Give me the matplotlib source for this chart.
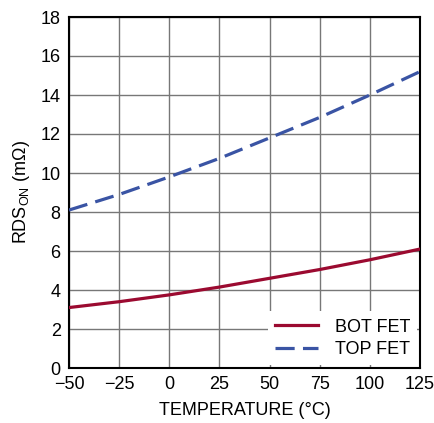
import matplotlib
matplotlib.use("Agg")
import matplotlib.pyplot as plt

plt.rcParams['font.family'] = ['Liberation Sans', 'DejaVu Sans']

temperature = [-50, -25, 0, 25, 50, 75, 100, 125]
bot_fet = [3.1, 3.4, 3.75, 4.15, 4.6, 5.05, 5.55, 6.1]
top_fet = [8.1, 8.9, 9.8, 10.75, 11.8, 12.85, 14.0, 15.2]
x_ticks = [-50, -25, 0, 25, 50, 75, 100, 125]
x_labels = ['\u221250', '\u221225', '0', '25', '50', '75', '100', '125']
y_ticks = [0, 2, 4, 6, 8, 10, 12, 14, 16, 18]

fig = plt.figure(figsize=(4.35, 4.23), dpi=100)
ax = fig.add_axes([69/435, 1 - 368/423, (420-69)/435, (368-17)/423])

ax.plot(temperature, bot_fet, color='#9b0a30', lw=2.3, label='BOT FET', zorder=3)
ax.plot(temperature, top_fet, color='#3a54a4', lw=2.3, dashes=(6, 2.6), label='TOP FET', zorder=3)

ax.set_xlim(-50, 125)
ax.set_ylim(0, 18)
ax.set_xticks(x_ticks)
ax.set_xticklabels(x_labels)
ax.set_yticks(y_ticks)
ax.grid(True, color='#777777', lw=1.0, zorder=0)
ax.tick_params(length=0, labelsize=13, pad=6)
for s in ax.spines.values():
    s.set_linewidth(1.5)
    s.set_color('black')

ax.set_xlabel('TEMPERATURE (\u00b0C)', fontsize=13, labelpad=6)
ax.set_ylabel('RDS$_{\\mathregular{ON}}$ (m\u03a9)', fontsize=13, labelpad=6)

leg = ax.legend(loc='lower right', fontsize=13, frameon=True, fancybox=False,
                edgecolor='white', framealpha=1.0, handlelength=2.4,
                borderaxespad=0.15, labelspacing=0.3, handletextpad=0.9)
leg.get_frame().set_linewidth(0)

fig.savefig('out.png', dpi=100)
